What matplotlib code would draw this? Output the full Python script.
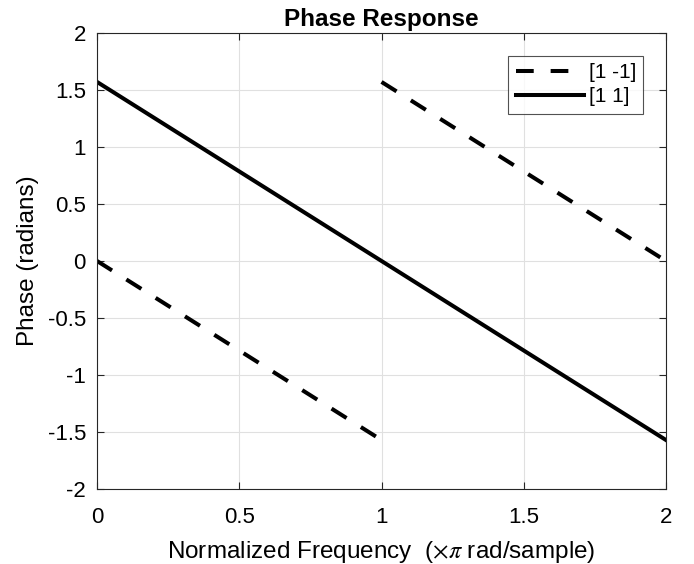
import numpy as np
import matplotlib.pyplot as plt

plt.rcParams['font.family'] = ['Liberation Sans', 'DejaVu Sans']
plt.rcParams['mathtext.fontset'] = 'stix'

# [1 -1] filter: phase jumps by pi at w = pi
freq_a1 = [0, 1]
phase_a1 = [0, -1.5708]
freq_a2 = [1, 2]
phase_a2 = [1.5708, 0]

# [1 1] filter: linear phase
freq_b = [0, 2]
phase_b = [1.5708, -1.5708]

fig = plt.figure(figsize=(6.94, 5.64), dpi=100)
ax = fig.add_axes([0.1398, 0.1330, 0.8199, 0.8085])

dash = (0, (4.4, 4.2))
ax.plot(freq_a1, phase_a1, color='black', lw=2.9, linestyle=dash, label='[1 -1]')
ax.plot(freq_a2, phase_a2, color='black', lw=2.9, linestyle=dash)
ax.plot(freq_b, phase_b, color='black', lw=2.9, label='[1 1]')

ax.set_xlim(0, 2)
ax.set_ylim(-2, 2)
ax.set_xticks(np.arange(0, 2.01, 0.5))
ax.set_yticks(np.arange(-2, 2.01, 0.5))
ax.set_xticklabels(['0', '0.5', '1', '1.5', '2'])
ax.set_yticklabels(['-2', '-1.5', '-1', '-0.5', '0', '0.5', '1', '1.5', '2'])
ax.grid(True, color='#e0e0e0', lw=0.8)
ax.set_axisbelow(True)
ax.tick_params(direction='in', top=True, right=True, length=5, width=0.8,
               labelsize=16, color='#262626')
ax.tick_params(axis='x', pad=13)
ax.tick_params(axis='y', pad=8)
for s in ax.spines.values():
    s.set_color('#262626')
    s.set_linewidth(0.8)

ax.set_title('Phase Response', fontsize=17.5, fontweight='bold', pad=5)
ax.set_xlabel('Normalized Frequency  ($\\times\\pi$ rad/sample)', fontsize=17.5, labelpad=8)
ax.set_ylabel('Phase (radians)', fontsize=17.5, labelpad=6)

leg = ax.legend(loc='upper right', bbox_to_anchor=(0.96, 0.95), fontsize=15,
                frameon=True, fancybox=False, edgecolor='#262626',
                handlelength=3.3, handletextpad=0.2, borderpad=0.35,
                labelspacing=0.25, borderaxespad=0)
leg.get_frame().set_linewidth(0.8)

fig.savefig('out.png', dpi=100)
